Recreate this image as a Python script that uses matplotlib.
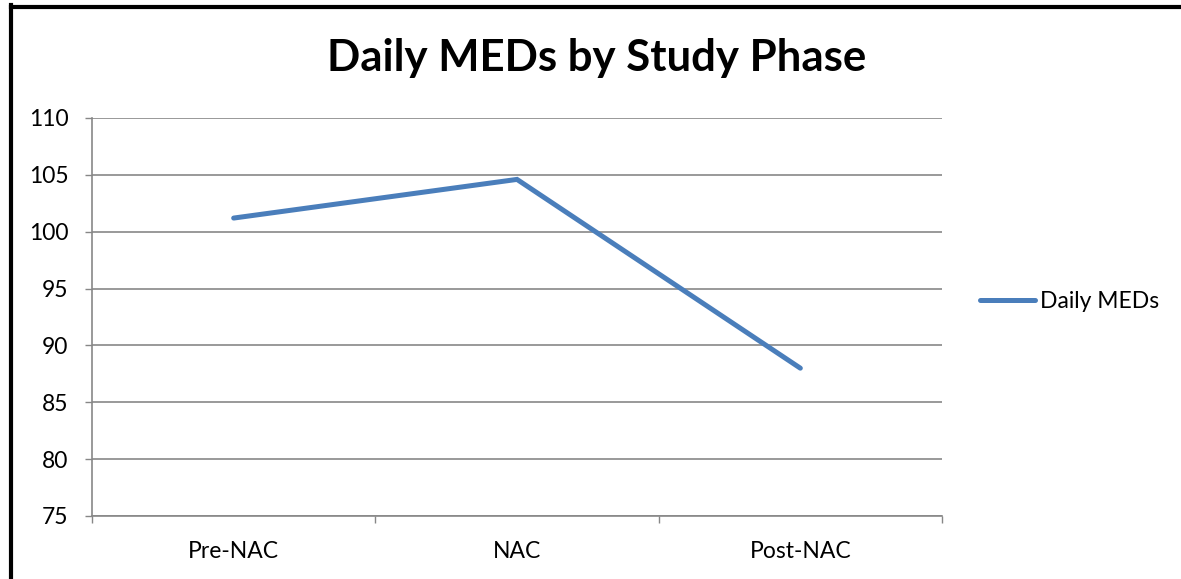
import matplotlib
matplotlib.use("Agg")
import matplotlib.pyplot as plt
from matplotlib.lines import Line2D

phases = ["Pre-NAC", "NAC", "Post-NAC"]
daily_meds = [101.2, 104.6, 88.0]
y_ticks = [75, 80, 85, 90, 95, 100, 105, 110]
series_name = "Daily MEDs"
title = "Daily MEDs by Study Phase"

FONT = ["Lato", "DejaVu Sans"]
plt.rcParams['font.family'] = FONT

W, H = 1181, 579
fig = plt.figure(figsize=(W / 100, H / 100), dpi=100)
fig.patch.set_facecolor("white")

ax = fig.add_axes([92 / W, 1 - 516 / H, (942 - 92) / W, (516 - 118) / H])
x = list(range(len(phases)))
line, = ax.plot(x, daily_meds, color="#4A7EBB", lw=3.6, solid_capstyle="round",
                solid_joinstyle="miter", label=series_name, zorder=3)

grid_c = "#878787"
FS = 16.5
ax.set_ylim(75, 110)
ax.set_yticks(y_ticks)
ax.set_yticklabels([str(v) for v in y_ticks], fontsize=FS)
ax.set_xlim(-0.5, len(phases) - 0.5)
ax.set_xticks(x)
ax.set_xticklabels(phases, fontsize=FS)
ax.tick_params(axis="x", which="major", length=0, pad=18)
ax.set_xticks([i - 0.5 for i in range(len(phases) + 1)], minor=True)
ax.tick_params(axis="x", which="minor", length=5, width=1.0, color=grid_c, direction="out")
ax.tick_params(axis="y", length=5, width=1.0, color=grid_c, pad=12)
ax.grid(axis="y", color=grid_c, lw=1.2)
ax.set_axisbelow(True)
for s in ["top", "right"]:
    ax.spines[s].set_visible(False)
for s in ["left", "bottom"]:
    ax.spines[s].set_color(grid_c)
    ax.spines[s].set_linewidth(1.2)

fig.text(597 / W, 1 - 58 / H, title, ha="center", va="center",
         fontsize=31.5, fontweight="bold")

leg = fig.legend(handles=[line], loc="center left", bbox_to_anchor=(980 / W, 1 - 302 / H),
                 frameon=False, fontsize=FS, handlelength=2.4, handletextpad=0.22,
                 borderaxespad=0, borderpad=0)

# black border on top and left
fig.add_artist(Line2D([10.5 / W, 1], [1 - 6.5 / H, 1 - 6.5 / H], color="black", lw=3, transform=fig.transFigure))
fig.add_artist(Line2D([10.5 / W, 10.5 / W], [0, 1 - 5 / H], color="black", lw=3, transform=fig.transFigure))

fig.savefig("out.png", dpi=100)
